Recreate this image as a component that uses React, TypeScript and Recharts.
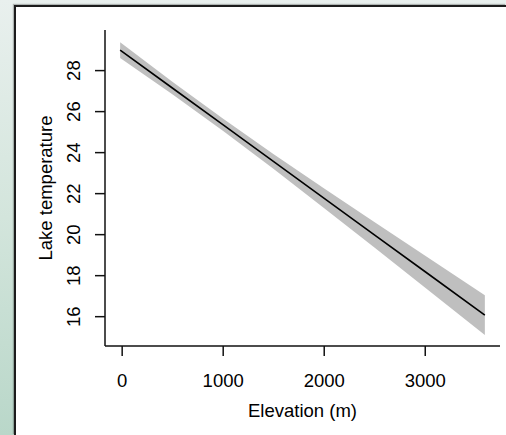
import React from 'react'
import { ComposedChart, Area, Line, XAxis, YAxis } from 'recharts'

// fitted lake temperature vs elevation with its confidence band
const elevations = [-20, 500, 1000, 1500, 2000, 2500, 3000, 3590]
const fitted = [29.0, 27.14, 25.35, 23.56, 21.77, 19.98, 18.19, 16.08]
const lower = [28.62, 26.83, 25.05, 23.2, 21.29, 19.36, 17.41, 15.11]
const upper = [29.38, 27.45, 25.65, 23.92, 22.25, 20.6, 18.97, 17.05]
const xTicks = [0, 1000, 2000, 3000]
const yTicks = [16, 18, 20, 22, 24, 26, 28]

const data = elevations.map((e, i) => ({ elev: e, fit: fitted[i], band: [lower[i], upper[i]] }))

const FONT = '"Liberation Sans", Arial, sans-serif'
const FS = 18.5

function YTick({ x, y, payload }: any) {
  return (
    <text x={x - 19} y={y} transform={`rotate(-90, ${x - 19}, ${y})`} textAnchor="middle"
      dominantBaseline="central" fontSize={FS} fontFamily={FONT} fill="#000">
      {payload.value}
    </text>
  )
}

function XTick({ x, payload }: any) {
  return (
    <text x={x} y={387} textAnchor="middle" fontSize={FS} fontFamily={FONT} fill="#000">
      {payload.value}
    </text>
  )
}

export default function App() {
  return (
    <div style={{
      position: 'absolute', left: 0, top: 0, width: 506, height: 435, overflow: 'hidden',
      background: 'linear-gradient(180deg, #e9f0ee 0%, #d3e5dc 50%, #b9d7c9 100%)',
    }}>
      <div style={{
        position: 'absolute', left: 14, top: 5, right: 0, bottom: 0, background: '#fff',
        borderLeft: '2px solid #1c1c1c', borderTop: '2px solid #1c1c1c',
        boxShadow: '-1px -1px 1px rgba(0,0,0,0.25)',
      }} />
      <div style={{ position: 'absolute', left: 0, top: 0 }}>
        <ComposedChart width={506} height={435} data={data} margin={{ top: 30, right: 6, bottom: 0, left: 0 }}>
          <XAxis dataKey="elev" type="number" domain={[-170, 3740]} ticks={xTicks} height={89}
            axisLine={{ stroke: '#111', strokeWidth: 1.5 }} tickLine={{ stroke: '#111', strokeWidth: 1.5 }}
            tickSize={10} tick={<XTick />}
            label={{ content: ({ viewBox }: any) => (
              <text x={viewBox.x + viewBox.width / 2} y={417} textAnchor="middle" fontSize={FS}
                fontFamily={FONT} fill="#000">Elevation (m)</text>
            ) }} />
          <YAxis type="number" domain={[14.57, 29.98]} ticks={yTicks} width={105}
            axisLine={{ stroke: '#111', strokeWidth: 1.5 }} tickLine={{ stroke: '#111', strokeWidth: 1.5 }}
            tickSize={10} tick={<YTick />}
            label={{ content: ({ viewBox }: any) => (
              <text x={45.5} y={viewBox.y + viewBox.height / 2} transform={`rotate(-90, 45.5, ${viewBox.y + viewBox.height / 2})`}
                textAnchor="middle" dominantBaseline="central" fontSize={FS} fontFamily={FONT} fill="#000">
                Lake temperature
              </text>
            ) }} />
          <Area dataKey="band" type="linear" fill="#bfbfbf" fillOpacity={1} stroke="none" isAnimationActive={false} />
          <Line dataKey="fit" type="linear" stroke="#000" strokeWidth={1.6} dot={false} isAnimationActive={false} />
        </ComposedChart>
      </div>
    </div>
  )
}
